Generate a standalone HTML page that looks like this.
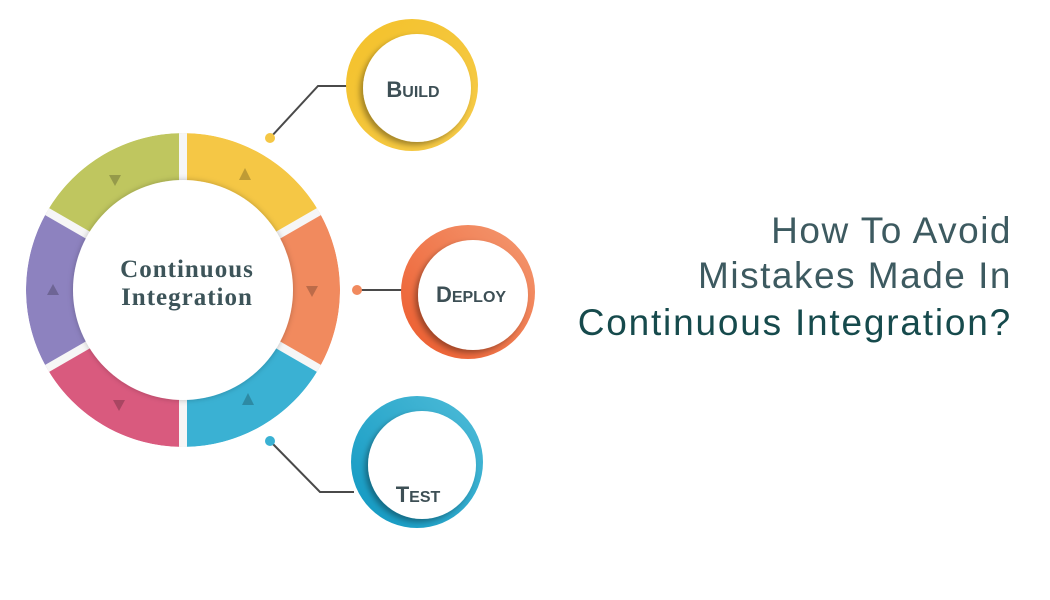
<!DOCTYPE html>
<html><head><meta charset="utf-8"><style>
html,body{margin:0;padding:0;background:#fff;}
svg{display:block}
</style></head><body>
<svg width="1050" height="600" viewBox="0 0 1050 600" xmlns="http://www.w3.org/2000/svg">
<defs>
<linearGradient id="gy" x1="0" y1="0" x2="1" y2="1"><stop offset="0" stop-color="#f3c12a"/><stop offset="1" stop-color="#f6cb4a"/></linearGradient>
<linearGradient id="go" x1="0" y1="1" x2="1" y2="0"><stop offset="0" stop-color="#ec5a2c"/><stop offset="1" stop-color="#f49a72"/></linearGradient>
<linearGradient id="gb" x1="0" y1="1" x2="1" y2="0"><stop offset="0" stop-color="#0f97c1"/><stop offset="1" stop-color="#4fbcd8"/></linearGradient>
<filter id="sh" x="-30%" y="-30%" width="160%" height="160%"><feDropShadow dx="-3" dy="3" stdDeviation="3" flood-color="#000" flood-opacity="0.35"/></filter>
<filter id="sh2" x="-30%" y="-30%" width="160%" height="160%"><feDropShadow dx="0" dy="0" stdDeviation="3" flood-color="#000" flood-opacity="0.25"/></filter>
<clipPath id="rc"><circle cx="183" cy="290" r="157"/></clipPath>
</defs>
<g clip-path="url(#rc)">
<path d="M183,290 L183,133 A157,157 0 0 1 319,211.5 Z" fill="#f5c745"/>
<path d="M183,290 L319,211.5 A157,157 0 0 1 319,368.5 Z" fill="#f18a5e"/>
<path d="M183,290 L319,368.5 A157,157 0 0 1 183,447 Z" fill="#3ab1d3"/>
<path d="M183,290 L183,447 A157,157 0 0 1 47,368.5 Z" fill="#d95a7e"/>
<path d="M183,290 L47,368.5 A157,157 0 0 1 47,211.5 Z" fill="#8d82bf"/>
<path d="M183,290 L47,211.5 A157,157 0 0 1 183,133 Z" fill="#bfc65f"/>
<g stroke="#f6f6f6" stroke-width="8">
<line x1="183" y1="290" x2="183" y2="125"/>
<line x1="183" y1="290" x2="183" y2="455"/>
<line x1="183" y1="290" x2="326" y2="207.5"/>
<line x1="183" y1="290" x2="326" y2="372.5"/>
<line x1="183" y1="290" x2="40" y2="207.5"/>
<line x1="183" y1="290" x2="40" y2="372.5"/>
</g>
</g>
<circle cx="183" cy="290" r="110" fill="#fff" filter="url(#sh2)"/>
<g fill="#000" fill-opacity="0.22">
<polygon points="239,180 251,180 245,168"/>
<polygon points="306,286 318,286 312,297"/>
<polygon points="242,405 254,405 248,393"/>
<polygon points="113,400 125,400 119,411"/>
<polygon points="47,295 59,295 53,284"/>
<polygon points="109,175 121,175 115,186"/>
</g>
<text x="187" y="277" text-anchor="middle" font-family="Liberation Serif, serif" font-weight="bold" font-size="25" letter-spacing="1" fill="#3d5459">Continuous</text>
<text x="187" y="305" text-anchor="middle" font-family="Liberation Serif, serif" font-weight="bold" font-size="25" letter-spacing="1" fill="#3d5459">Integration</text>
<g stroke="#4a4a4a" stroke-width="2" fill="none">
<polyline points="270,138 318,86 348,86"/>
<polyline points="357,290 405,290"/>
<polyline points="270,441 320,492 354,492"/>
</g>
<circle cx="270" cy="138" r="5" fill="#f5c745"/>
<circle cx="357" cy="290" r="5" fill="#f18a5e"/>
<circle cx="270" cy="441" r="5" fill="#3ab1d3"/>
<circle cx="412" cy="85" r="66" fill="url(#gy)"/>
<circle cx="417" cy="88" r="54" fill="#fff" filter="url(#sh)"/>
<circle cx="468" cy="292" r="67" fill="url(#go)"/>
<circle cx="473" cy="295" r="55" fill="#fff" filter="url(#sh)"/>
<circle cx="417" cy="462" r="66" fill="url(#gb)"/>
<circle cx="422" cy="465" r="54" fill="#fff" filter="url(#sh)"/>
<g font-family="Liberation Sans, sans-serif" font-weight="bold" fill="#3d4f55">
<text x="413" y="97" text-anchor="middle"><tspan font-size="22">B</tspan><tspan font-size="16">UILD</tspan></text>
<text x="471" y="302" text-anchor="middle"><tspan font-size="22">D</tspan><tspan font-size="16">EPLOY</tspan></text>
<text x="418" y="502" text-anchor="middle"><tspan font-size="22">T</tspan><tspan font-size="16">EST</tspan></text>
</g>
<g font-family="Liberation Sans, sans-serif" font-size="37" text-anchor="end">
<text x="1012" y="243" fill="#3d5a60" letter-spacing="1.5">How To Avoid</text>
<text x="1012" y="288" fill="#3d5a60" letter-spacing="1.5">Mistakes Made In</text>
<text x="1012" y="335" fill="#164a4c" letter-spacing="1.8">Continuous Integration?</text>
</g>
</svg>
</body></html>
